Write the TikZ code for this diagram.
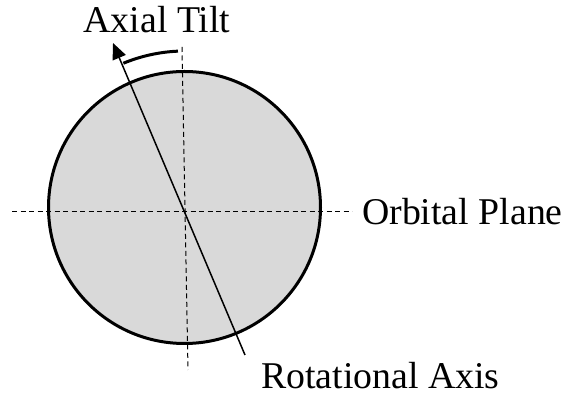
\documentclass[tikz,border=0pt]{standalone}
\usepackage{fontspec}
\setmainfont{Liberation Serif}
\usetikzlibrary{arrows.meta}

\begin{document}
\begin{tikzpicture}
  [x=1pt, y=1pt,
   planet/.style={draw=black, fill=black!15, line width=3pt},
   guide/.style={draw=black, line width=1pt, dash pattern=on 5pt off 3.5pt},
   axis/.style={draw=black, line width=1.5pt},
   label/.style={font=\fontsize{37.8}{44}\selectfont, inner sep=0pt}]

  \useasboundingbox (0,0) rectangle (563,396);

  \coordinate (ctr) at (185,184);
  \coordinate (pl) at (12,184);
  \coordinate (pr) at (352,184);
  \coordinate (vt) at (182,349);
  \coordinate (vb) at (188,26);
  \coordinate (at) at (113,353);
  \coordinate (ab) at (245,41);

  \path[planet] (184.5,188.5) circle (136);

  \draw[guide] (pl) -- (pr);
  \draw[guide] (vt) -- (vb);

  \draw[axis, -{Triangle[length=16pt, width=14pt]}] (ab) -- (at);
  \draw[line width=3pt] ([shift={(92.5:161)}]ctr) arc (92.5:112.5:161);

  \node[label, anchor=base] (tilt) at (157,363) {Axial Tilt};
  \node[label, anchor=base west] (orbit) at (362,171) {Orbital Plane};
  \node[label, anchor=base west] (rot) at (261,7) {Rotational Axis};
\end{tikzpicture}
\end{document}
